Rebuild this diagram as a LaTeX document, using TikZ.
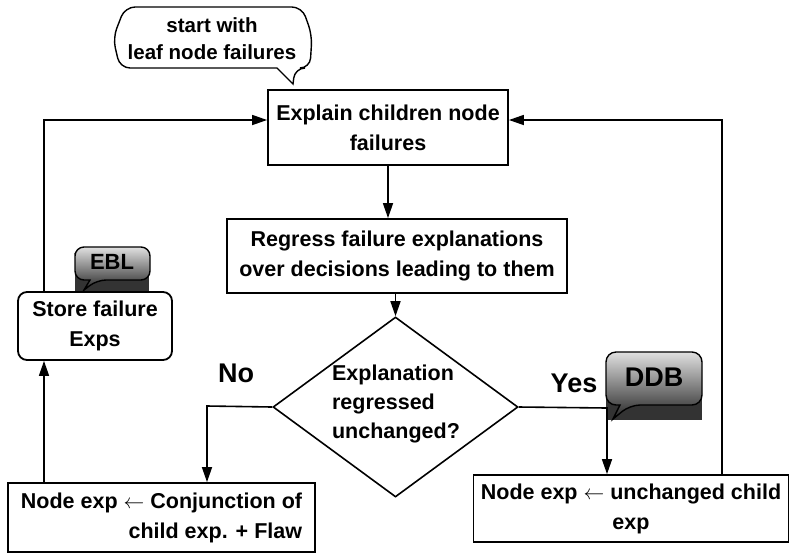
\documentclass[tikz,border=0pt]{standalone}
\usepackage{fontspec}
\setmainfont{Liberation Sans}
\usetikzlibrary{arrows.meta,shapes.geometric,calc}
\begin{document}
\begin{tikzpicture}[x=1pt,y=-1pt,
  line width=1.6pt,
  arr/.style={-{Triangle[length=15pt,width=10pt]}},
  txt/.style={font=\fontsize{21.5}{30}\selectfont\bfseries},
  box/.style={draw,line width=1.8pt,inner sep=0pt,txt,align=center},
  bubble/.style={draw,line width=1.4pt,rounded corners=9pt,top color=black!12,bottom color=black!85},
]
\useasboundingbox (0,0) rectangle (789,558);

% start bubble
\draw[line width=1.4pt,fill=white,rounded corners=10pt]
  (125,7) -- (302,7) -- (312,35) -- (310,68) -- (295,68)
  [sharp corners] -- (293,84) -- (277,68) [rounded corners=10pt]
  -- (120,68) -- (113,38) -- cycle;
\node[txt,align=center,font=\fontsize{20.5}{27}\selectfont\bfseries] (start) at (212,39) {start with\\leaf node failures};

% main boxes
\node[box,minimum width=240pt,minimum height=75pt] (explain) at (388,127.5) {Explain children node\\failures};
\node[box,minimum width=340pt,minimum height=74pt] (regress) at (397,256) {Regress failure explanations\\over decisions leading to them};
\node[draw,diamond,minimum width=245pt,minimum height=180pt,inner sep=0pt,line width=1.6pt] (dia) at (395.5,407) {};
\node[txt,align=left,font=\fontsize{21.5}{29}\selectfont\bfseries] (dtext) at (396,404) {Explanation\\regressed\\unchanged?};

% EBL callout
\fill[black!80] (75,272) rectangle (149,292);
\path[bubble] (75,262) [rounded corners=9pt] -- (75,247) -- (150,247) -- (150,280) -- (97,280)
  [sharp corners] -- (84,290) -- (90,280) [rounded corners=9pt] -- (75,280) -- cycle;
\node[txt,font=\fontsize{22}{26}\selectfont\bfseries] (ebl) at (112,262) {EBL};

\node[box,rounded corners=9pt,minimum width=154pt,minimum height=68pt,fill=white] (store) at (95,326) {Store failure\\Exps};

% DDB callout
\fill[black!80] (606,398) rectangle (702,420);
\path[bubble] (606,375) [rounded corners=10pt] -- (606,352) -- (702,352) -- (702,405) -- (630,405)
  [sharp corners] -- (613,419) -- (620,405) [rounded corners=10pt] -- (606,405) -- cycle;
\node[font=\fontsize{27}{30}\selectfont\bfseries] (ddb) at (654,377) {DDB};

% bottom boxes
\node[box,align=right,minimum width=307pt,minimum height=69pt] (leftbox) at (161.5,517.5) {Node exp $\leftarrow$ Conjunction of\\child exp. + Flaw};
\node[box,minimum width=315pt,minimum height=67pt] (rightbox) at (631,508.5) {Node exp $\leftarrow$ unchanged child\\exp};

% labels
\node[font=\fontsize{27}{30}\selectfont\bfseries] (no) at (236,373) {No};
\node[font=\fontsize{27}{30}\selectfont\bfseries] (yes) at (574,383) {Yes};

% connectors
\coordinate (ty) at (0,120);
\coordinate (lx) at (44,0);
\coordinate (rx) at (722,0);
\coordinate (nl) at (207,406);
\coordinate (yr) at (607,408);

\draw[arr] (explain.south) -- (explain.south |- regress.north);
\draw[arr] (dia.north |- regress.south) -- (dia.north);
\draw[arr] (dia.west) -- (nl) -- (nl |- leftbox.north);
\draw[arr] (dia.east) -- (yr) -- (yr |- rightbox.north);
\draw[arr] (lx |- leftbox.north) -- (lx |- store.south);
\draw[arr] (lx |- store.north) |- (explain.west |- ty);
\draw[arr] (rx |- rightbox.north) |- (explain.east |- ty);
\end{tikzpicture}
\end{document}
